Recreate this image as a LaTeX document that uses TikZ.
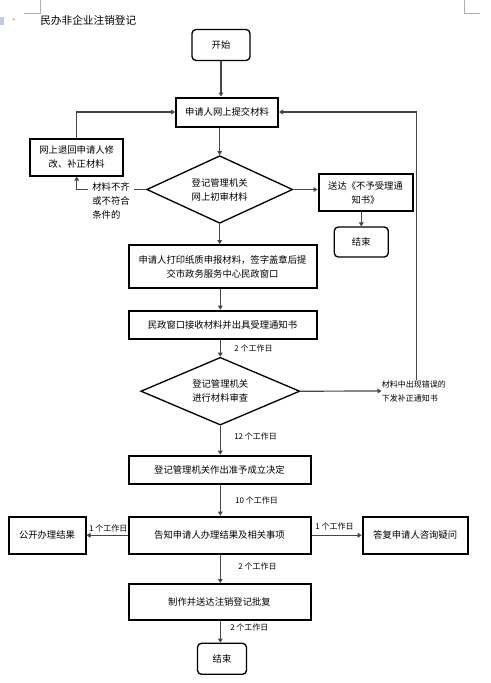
\documentclass[tikz,border=0pt]{standalone}
\usepackage{fontspec}
\setmainfont{Noto Sans CJK SC}
\usetikzlibrary{positioning,
        shapes.geometric,
        arrows.meta}
\usepackage{xcolor}
\definecolor{linegray}{RGB}{70,70,70}
\definecolor{markgray}{RGB}{175,175,175}
\definecolor{iconblue}{RGB}{190,205,225}

\begin{document}
\begin{tikzpicture}[x=0.75pt,y=-0.75pt,
        box/.style={draw,line width=1.5pt,align=center,inner sep=0pt,
                font=\fontsize{7pt}{10.5pt}\selectfont},
        rbox/.style={draw,line width=1pt,rounded corners=3pt,align=center,inner sep=0pt,
                font=\fontsize{7pt}{10.5pt}\selectfont},
        dia/.style={diamond,draw,line width=1pt,aspect=2.2,align=center,inner sep=0pt,
                font=\fontsize{7pt}{10.5pt}\selectfont},
        arr/.style={draw=linegray,line width=0.9pt,-{Triangle[length=3pt,width=3.5pt]}},
        lbl/.style={font=\fontsize{6pt}{10.5pt}\selectfont,inner sep=0pt,align=left},
        cond/.style={font=\fontsize{7pt}{10.5pt}\selectfont,align=left,fill=white,
                inner xsep=3pt,inner ysep=0.75pt}]
        \useasboundingbox (0,0) rectangle (490,683);
        % page marks and paste icon
        \draw[markgray,line width=0.6pt] (40,0) -- (40,13) -- (24,13);
        \draw[markgray,line width=0.6pt] (464,0) -- (464,13) -- (480,13);
        \fill[iconblue] (0,17) rectangle (4,25);
        \fill[markgray] (12,18.5) -- (15.5,18.5) -- (13.75,20.5) -- cycle;
        \node [anchor=west,inner sep=0pt,font=\fontsize{8pt}{10pt}\selectfont] (title) at (40,20.7) {民办非企业注销登记};

        \node [rbox,minimum width=43.5pt,minimum height=23.25pt] (start) at (221,45) {开始};
        \node [box,minimum width=76.5pt,minimum height=21.75pt] (submit) at (227,112) {申请人网上提交材料};
        \node [box,minimum width=69.75pt,minimum height=27.5pt] (back) at (76.7,157.3) {网上退回申请人修\\改、补正材料};
        \node [dia,minimum width=109.5pt,minimum height=50.7pt] (check1) at (219.7,189.5) {登记管理机关\\网上初审材料};
        \node [box,minimum width=70.5pt,minimum height=27.5pt] (reject) at (365.5,192.7) {送达《不予受理通\\知书》};
        \node [rbox,minimum width=40.5pt,minimum height=22.5pt] (end1) at (361.3,242) {结束};
        \node [box,minimum width=141pt,minimum height=32.5pt] (print) at (222.5,266.7) {申请人打印纸质申报材料，签字盖章后提\\交市政务服务中心民政窗口};
        \node [box,minimum width=141pt,minimum height=21.45pt] (accept) at (222.5,325) {民政窗口接收材料并出具受理通知书};
        \node [dia,minimum width=119.25pt,minimum height=50.8pt] (check2) at (220.3,391.2) {登记管理机关\\进行材料审查};
        \node [box,minimum width=136.5pt,minimum height=21.45pt] (decide) at (219.5,470) {登记管理机关作出准予成立决定};
        \node [box,minimum width=136.5pt,minimum height=28pt] (notify) at (219.5,535.3) {告知申请人办理结果及相关事项};
        \node [box,minimum width=57.75pt,minimum height=28pt] (publish) at (47,535.3) {公开办理结果};
        \node [box,minimum width=78.75pt,minimum height=28pt] (reply) at (415.2,535.3) {答复申请人咨询疑问};
        \node [box,minimum width=136.5pt,minimum height=27pt] (issue) at (219.5,602) {制作并送达注销登记批复};
        \node [rbox,minimum width=36.75pt,minimum height=23.25pt] (end2) at (222,658.8) {结束};

        \node [lbl,anchor=west] (err) at (381.5,391) {材料中出现错误的\\下发补正通知书};
        \coordinate (turnR) at (416.7,112);

        \draw [arr] (start.south) -- (start.south |- submit.north);
        \draw [arr] (submit.south -| check1.north) -- (check1.north);
        \draw [arr] (check1.east) -- (check1.east -| reject.west);
        \draw [arr] (reject.south -| end1.north) -- (end1.north);
        \draw [arr] (check1.west) -- (back.south |- check1.west) -- (back.south);
        \draw [arr] (back.north) -- (back.north |- submit.west) -- (submit.west);
        \draw [arr] (check1.south) -- (check1.south |- print.north);
        \draw [arr] (print.south -| check2.north) -- (accept.north -| check2.north);
        \draw [arr] (accept.south -| check2.north) -- (check2.north);
        \draw [arr] (check2.east) -- (err.west);
        \draw [arr] (err.north -| turnR) -- (turnR) -- (submit.east);
        \draw [arr] (check2.south) -- (check2.south |- decide.north);
        \draw [arr] (decide.south -| check2.south) -- (notify.north -| check2.south);
        \draw [arr] (notify.west) -- (publish.east);
        \draw [arr] (notify.east) -- (reply.west);
        \draw [arr] (notify.south -| check2.south) -- (issue.north -| check2.south);
        \draw [arr] (issue.south -| check2.south) -- (end2.north -| check2.south);

        \node [cond] (lack) at (111,201) {材料不齐\\或不符合\\条件的};
        \node [lbl,anchor=west] (d1) at (234,348.3) {2 个工作日};
        \node [lbl,anchor=west] (d2) at (234,436.7) {12 个工作日};
        \node [lbl,anchor=west] (d3) at (235,500.7) {10 个工作日};
        \node [lbl,anchor=east] (d4) at (127.7,528.3) {1 个工作日};
        \node [lbl,anchor=west] (d5) at (315,526.7) {1 个工作日};
        \node [lbl,anchor=west] (d6) at (238,566.7) {2 个工作日};
        \node [lbl,anchor=west] (d7) at (230,627.7) {2 个工作日};
\end{tikzpicture}
\end{document}
